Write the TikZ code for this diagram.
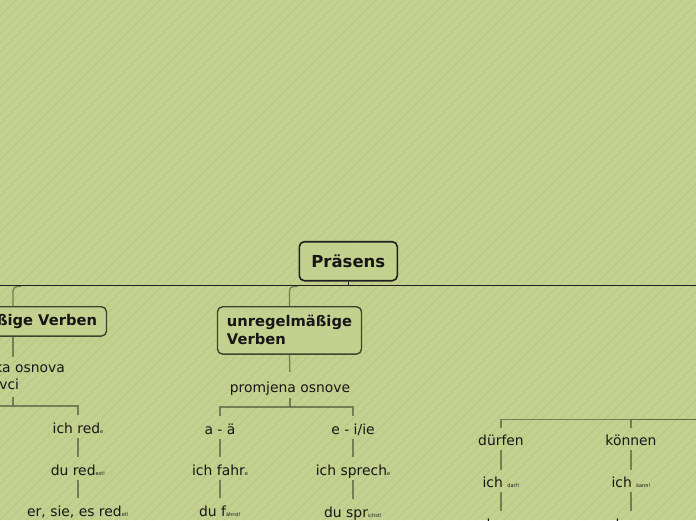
\documentclass[tikz,border=0pt]{standalone}
\usepackage{fontspec}
\setmainfont{DejaVu Sans}
\usetikzlibrary{calc}
\definecolor{bg}{HTML}{C3D08E}
\definecolor{stripe}{HTML}{B6C384}
\definecolor{mainln}{HTML}{1F1F1F}
\definecolor{connc}{HTML}{5C6342}
\definecolor{boxln}{HTML}{3E4430}
\definecolor{txt}{HTML}{161616}
\newcommand\tinytxt[1]{{\fontsize{5}{5}\selectfont #1}}
\begin{document}
\begin{tikzpicture}[x=1pt,y=-1pt,
  rootbox/.style={draw=mainln, line width=1.6pt, fill=bg, rounded corners=5pt, minimum width=98pt, minimum height=39pt, inner sep=0pt, font=\fontsize{16.5}{20}\selectfont\bfseries, text=txt},
  branchbox/.style={draw=boxln, line width=1.4pt, fill=bg, rounded corners=5pt, inner xsep=9.5pt, inner ysep=0pt, font=\fontsize{14.7}{18}\selectfont\bfseries, text=txt, align=left},
  leaf/.style={inner xsep=0pt, inner ysep=3.5pt, text height=12pt, text depth=1pt, font=\fontsize{13.9}{17}\selectfont, text=txt},
  twoline/.style={inner sep=0pt, align=left, font=\fontsize{13.9}{17}\selectfont, text=txt},
  mainline/.style={draw=mainln, line width=1.4pt},
  conn/.style={draw=connc, line width=1.3pt, draw opacity=0.75},
  stripeln/.style={draw=stripe, line width=0.6pt}]
\useasboundingbox (0,0) rectangle (696,520);
\clip (0,0) rectangle (696,520);
\fill[bg] (0,0) rectangle (696,520);
\foreach \i in {-531,-522,...,705} \draw[stripeln] (\i,520) -- ++(520,-520);

% coordinates for connector ends outside the frame
\coordinate (mL) at (-20,285.5);
\coordinate (mR) at (720,285.5);
\coordinate (f1) at (13,406);
\coordinate (offL) at (-70,406);
\coordinate (f2) at (290,407);
\coordinate (offR) at (720,419.3);

% nodes
\node[rootbox] (pr) at (348.3,261.2) {Präsens};
\node[branchbox, minimum height=29.3pt] (reg) at (13,321.4) {regelmäßige Verben};
\node[branchbox, minimum height=47.3pt] (unreg) at (289.5,330.4) {unregelmäßige\\Verben};
\node[twoline, anchor=north west] (osn) at (-55.5,362) {glagolska osnova\\+ nastavci};
\node[leaf] (prom) at (290,387.3) {promjena osnove};
\node[leaf] (ir) at (78,428) {ich red\tinytxt{e}};
\node[leaf] (dr) at (78,470) {du red\tinytxt{est!}};
\node[leaf] (er) at (78,511) {er, sie, es red\tinytxt{et!}};
\node[leaf] (aa) at (220,429) {a - ä};
\node[leaf] (ei) at (353,429) {e - i/ie};
\node[leaf] (nif) at (220,470) {ich fahr\tinytxt{e}};
\node[leaf] (ndf) at (220,511) {du f\tinytxt{ährst!}};
\node[leaf] (nis) at (353,470) {ich sprech\tinytxt{e}};
\node[leaf] (nds) at (353,512) {du spr\tinytxt{ichst!}};
\node[leaf] (duer) at (501,440) {dürfen};
\node[leaf] (koen) at (631,440) {können};
\node[leaf] (nid) at (501,482) {ich \tinytxt{darf!}};
\node[leaf] (nik) at (631,482) {ich \tinytxt{kann!}};
\node[leaf] (ndd) at (501,524) {du \tinytxt{darfst!}};
\node[leaf] (ndk) at (631,524) {du \tinytxt{kannst!}};

% top level connectors
\draw[conn, rounded corners=4pt] ($(reg.north |- mL)+(8,1)$) -| (reg.north);
\draw[conn, rounded corners=4pt] ($(unreg.north |- mL)+(8,1)$) -| (unreg.north);
\draw[mainline] (mL) -- (mR);
\draw[mainline] (pr.south) -- (pr.south |- mL);

% regelmaessige subtree
\draw[conn, shorten >=5pt] (reg.south) -- (reg.south |- osn.north);
\draw[conn, shorten <=7.2pt] (reg.south |- osn.south) -- (f1);
\draw[conn, shorten >=3pt] (offL) -| (ir.north);
\draw[conn, shorten >=3pt] (ir.south) -- (dr.north);
\draw[conn, shorten >=3pt] (dr.south) -- (er.north);

% unregelmaessige subtree
\draw[conn, shorten >=5.3pt] (unreg.south) -- (prom.north);
\draw[conn] (prom.south) -- (f2);
\draw[conn, shorten >=3pt] (f2) -| (aa.north);
\draw[conn, shorten >=3pt] (f2) -| (ei.north);
\draw[conn, shorten >=3pt] (aa.south) -- (nif.north);
\draw[conn, shorten >=3pt] (nif.south) -- (ndf.north);
\draw[conn, shorten >=3pt] (ei.south) -- (nis.north);
\draw[conn, shorten >=3pt] (nis.south) -- (nds.north);

% modal subtree
\draw[conn, shorten >=2pt] (offR) -| (duer.north);
\draw[conn, shorten >=2pt] (offR) -| (koen.north);
\draw[conn, shorten >=2pt] (duer.south) -- (nid.north);
\draw[conn, shorten >=2pt] (koen.south) -- (nik.north);
\draw[conn, shorten >=3pt] (nid.south) -- (ndd.north);
\draw[conn, shorten >=3pt] (nik.south) -- (ndk.north);
\end{tikzpicture}
\end{document}
